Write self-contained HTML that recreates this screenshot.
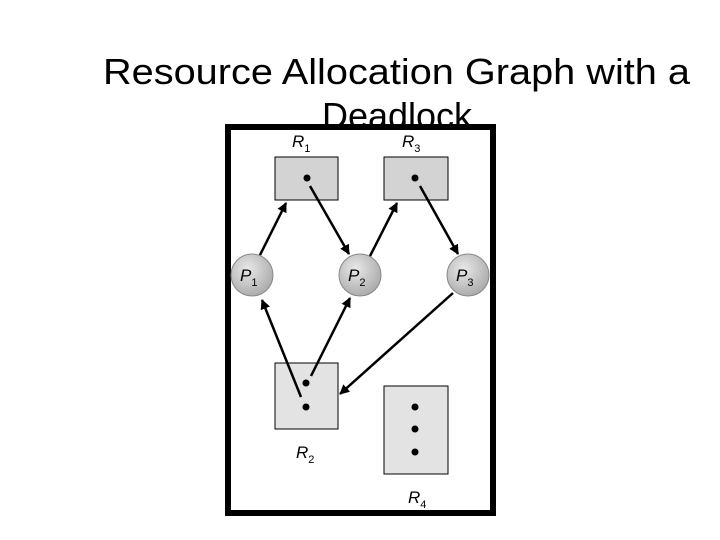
<!DOCTYPE html>
<html><head><meta charset="utf-8"><style>html,body{margin:0;padding:0;background:#fff}svg{display:block}</style></head>
<body>
<svg width="720" height="540" viewBox="0 0 720 540" xmlns="http://www.w3.org/2000/svg" font-family="Liberation Sans, Arial, sans-serif">
<defs>
<marker id="a" markerWidth="10" markerHeight="10" refX="9" refY="5" orient="auto" markerUnits="userSpaceOnUse"><path d="M0,0 L10,5 L0,10 z" fill="#000"/></marker>
<radialGradient id="g" cx="0.4" cy="0.35" r="0.7"><stop offset="0" stop-color="#e8e8e8"/><stop offset="1" stop-color="#a8a8a8"/></radialGradient>
</defs>
<text x="103" y="84" font-size="36" textLength="587" lengthAdjust="spacingAndGlyphs">Resource Allocation Graph with a</text>
<text x="397" y="128" font-size="36" text-anchor="middle">Deadlock</text>
<rect x="228" y="127" width="265" height="386" fill="none" stroke="#000" stroke-width="6"/>
<g font-style="italic" font-size="17">
<text x="292" y="147">R<tspan font-size="11" font-style="normal" dy="5">1</tspan></text>
<text x="402" y="147">R<tspan font-size="11" font-style="normal" dy="5">3</tspan></text>
<text x="296" y="458">R<tspan font-size="11" font-style="normal" dy="5">2</tspan></text>
<text x="408" y="503">R<tspan font-size="11" font-style="normal" dy="5">4</tspan></text>
</g>
<g stroke="#000" stroke-width="1">
<rect x="275" y="157" width="63" height="43" fill="#d3d3d3"/>
<rect x="384" y="157" width="64" height="43" fill="#d3d3d3"/>
<rect x="275" y="363" width="63" height="66" fill="#e3e3e3"/>
<rect x="384" y="386" width="64" height="88" fill="#e3e3e3"/>
</g>
<g fill="#000">
<circle cx="307" cy="178" r="3.5"/><circle cx="415" cy="178" r="3.5"/>
<circle cx="306" cy="383" r="3.5"/><circle cx="306" cy="407" r="3.5"/>
<circle cx="415" cy="407" r="3.5"/><circle cx="415" cy="429" r="3.5"/><circle cx="415" cy="452" r="3.5"/>
</g>
<g stroke="#888" stroke-width="1" fill="url(#g)">
<circle cx="252" cy="275" r="21"/><circle cx="360" cy="275" r="21"/><circle cx="468" cy="275" r="21"/>
</g>
<g font-style="italic" font-size="17">
<text x="240" y="281">P<tspan font-size="11" font-style="normal" dy="5">1</tspan></text>
<text x="348" y="281">P<tspan font-size="11" font-style="normal" dy="5">2</tspan></text>
<text x="456" y="281">P<tspan font-size="11" font-style="normal" dy="5">3</tspan></text>
</g>
<g stroke="#000" stroke-width="2.5" marker-end="url(#a)">
<line x1="260" y1="255" x2="286" y2="203"/>
<line x1="310" y1="186" x2="349" y2="254"/>
<line x1="370" y1="256" x2="397" y2="203"/>
<line x1="420" y1="186" x2="458" y2="254"/>
<line x1="301" y1="397" x2="262" y2="300"/>
<line x1="311" y1="376" x2="350" y2="298"/>
<line x1="453" y1="293" x2="340" y2="394"/>
</g>
</svg>
</body></html>
